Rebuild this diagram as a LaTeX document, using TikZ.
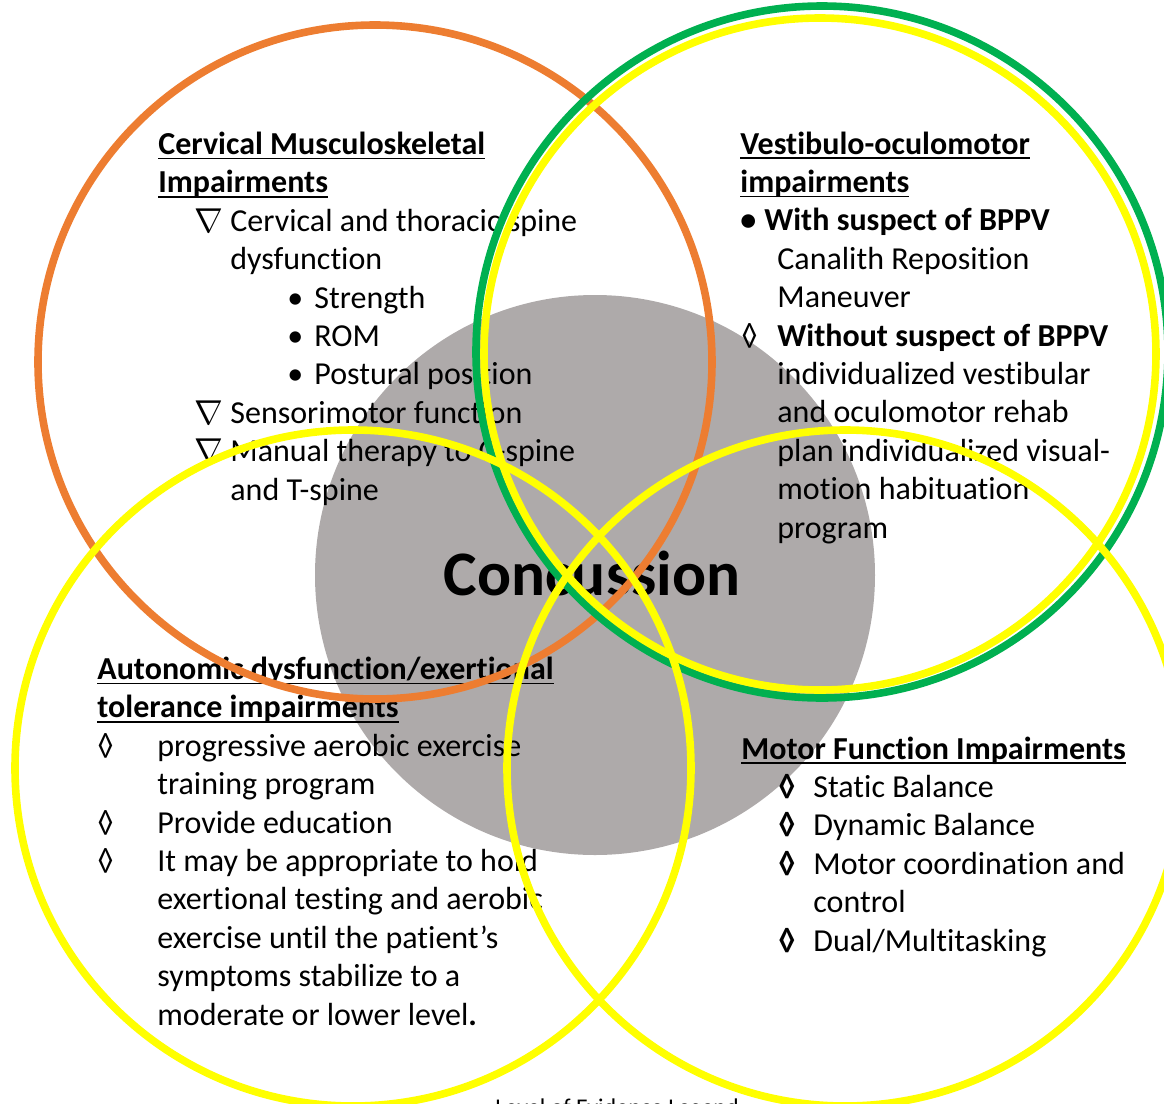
\documentclass[tikz,border=0pt]{standalone}
\usepackage{fontspec}
\setmainfont{Carlito}[Ligatures={NoCommon,NoContextual}]
\definecolor{ringorange}{HTML}{ED7D31}
\definecolor{ringyellow}{HTML}{FFFF00}
\definecolor{ringgreen}{HTML}{00B050}
\definecolor{coregray}{HTML}{AEAAAA}
\newlength\headw
\newcommand{\headline}[1]{\settowidth{\headw}{\textbf{#1}}%
  \rlap{\textbf{#1}}\rule[-2.4pt]{\headw}{0.75pt}}
\newcommand{\tri}{\raisebox{-0.6pt}{\fontsize{18}{18}\selectfont$\nabla$}}
\tikzset{
  ring/.style={line width=3.8pt},
  block/.style={anchor=base west, inner sep=0pt, align=left,
    font=\fontsize{16}{19.2}\selectfont},
}

\begin{document}
\begin{tikzpicture}[x=0.5pt,y=-0.5pt]

  % Frame
  \clip (0,0) rectangle (1164,1104);

  % Core
  \fill[coregray] (595,575) circle (280);

  % Texts (placed at the baseline of their last line)
  \node[block] (cerv) at (158,500) {%
    \headline{Cervical Musculoskeletal}\\
    \headline{Impairments}\\
    \hspace*{18pt}\makebox[18pt][l]{\tri}Cervical and thoracic spine\\
    \hspace*{36pt}dysfunction\\
    \hspace*{64.5pt}\makebox[13.5pt][l]{•}Strength\\
    \hspace*{64.5pt}\makebox[13.5pt][l]{•}ROM\\
    \hspace*{64.5pt}\makebox[13.5pt][l]{•}Postural position\\
    \hspace*{18pt}\makebox[18pt][l]{\tri}Sensorimotor function\\
    \hspace*{18pt}\makebox[18pt][l]{\tri}Manual therapy to C-spine\\
    \hspace*{36pt}and T-spine};
  \node[block] (vest) at (740,538) {%
    \headline{Vestibulo-oculomotor}\\
    \headline{impairments}\\
    \makebox[12pt][l]{\textbf{•}}\textbf{With suspect of BPPV}\\
    \hspace*{18.5pt}Canalith Reposition\\
    \hspace*{18.5pt}Maneuver\\
    \makebox[18.5pt][l]{\hspace*{0.5pt}◊}\textbf{Without suspect of BPPV}\\
    \hspace*{18.5pt}individualized vestibular\\
    \hspace*{18.5pt}and oculomotor rehab\\
    \hspace*{18.5pt}plan individualized visual-\\
    \hspace*{18.5pt}motion habituation\\
    \hspace*{18.5pt}program};
  \node[block] (auto) at (97,1025) {%
    \headline{Autonomic dysfunction/exertional}\\
    \headline{tolerance impairments}\\
    \makebox[30pt][l]{◊}progressive aerobic exercise\\
    \hspace*{30pt}training program\\
    \makebox[30pt][l]{◊}Provide education\\
    \makebox[30pt][l]{◊}It may be appropriate to hold\\
    \hspace*{30pt}exertional testing and aerobic\\
    \hspace*{30pt}exercise until the patient’s\\
    \hspace*{30pt}symptoms stabilize to a\\
    \hspace*{30pt}moderate or lower level\textbf{.}};
  \node[block] (motor) at (741,951) {%
    \headline{Motor Function Impairments}\\
    \hspace*{18.5pt}\makebox[17.5pt][l]{\bfseries ◊}Static Balance\\
    \hspace*{18.5pt}\makebox[17.5pt][l]{\bfseries ◊}Dynamic Balance\\
    \hspace*{18.5pt}\makebox[17.5pt][l]{\bfseries ◊}Motor coordination and\\
    \hspace*{36pt}control\\
    \hspace*{18.5pt}\makebox[17.5pt][l]{\bfseries ◊}Dual/Multitasking};
  \node[anchor=base, inner sep=0pt, font=\fontsize{31.7}{36}\selectfont\bfseries]
    (core) at (592,595) {Concussion};
  \node[anchor=base west, inner sep=0pt, font=\fontsize{12}{14}\selectfont]
    (legend) at (495,1115) {Level of Evidence Legend};

  % Rings
  \draw[ring,ringorange] (375,362) circle (337);
  \draw[ring,ringgreen] (822,352) circle (346);
  \draw[ring,ringyellow] (820,354) circle (336);
  \draw[ring,ringyellow] (353,768) circle (338);
  \draw[ring,ringyellow] (845,768) circle (338);

\end{tikzpicture}
\end{document}
